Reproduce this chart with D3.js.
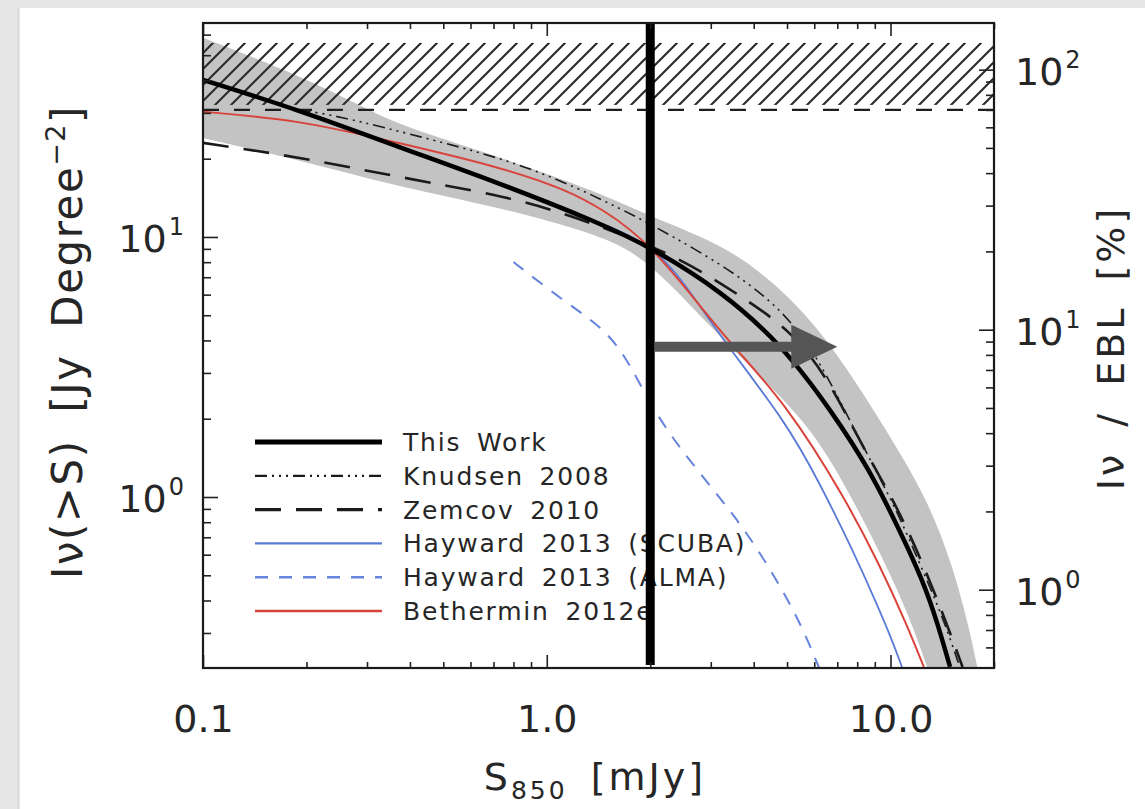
<!DOCTYPE html>
<html>
<head>
<meta charset="utf-8">
<script src="https://cdn.jsdelivr.net/npm/d3@7"></script>
<style>
  body { margin: 0; background: #fff; }
  svg text { font-family: "DejaVu Sans", sans-serif; fill: #262626; }
</style>
</head>
<body>
<div id="chart"></div>
<script>
/* DATA (S850 in mJy, I in Jy deg^-2) */
const thisWorkS = [0.1, 0.19, 0.37, 0.73, 1.43, 2.0, 3.2, 4.9, 6.8, 8.7, 10.6, 12.4, 13.7, 14.9];
const thisWorkI = [40.2, 30.8, 22.2, 16.1, 11.3, 9.15, 6.25, 3.78, 2.10, 1.27, 0.75, 0.48, 0.328, 0.222];

const knudsenS = [0.19, 0.24, 0.47, 0.91, 1.63, 1.95, 2.84, 4.16, 5.44, 6.65, 8.12, 10.2, 12.15, 14.2, 15.9];
const knudsenI = [30.8, 29.5, 23.6, 18.6, 12.9, 11.4, 8.68, 6.25, 4.39, 2.82, 1.66, 0.948, 0.557, 0.345, 0.222];

const zemcovS = [0.1, 0.19, 0.37, 0.73, 1.09, 1.63, 2.44, 3.64, 5.26, 6.74, 8.23, 10.4, 12.4, 14.45, 16.2];
const zemcovI = [23.0, 20.3, 17.0, 14.5, 12.5, 10.3, 8.30, 5.98, 4.27, 2.70, 1.585, 0.932, 0.557, 0.336, 0.222];

const scubaS = [0.835, 1.43, 1.98, 2.49, 3.14, 4.99, 6.22, 7.76, 9.10, 10.1, 10.8];
const scubaI = [14.8, 11.4, 9.48, 6.83, 4.27, 1.93, 1.13, 0.626, 0.391, 0.282, 0.222];

const almaS = [0.80, 1.11, 1.49, 1.74, 2.09, 2.73, 3.81, 5.33, 6.2];
const almaI = [8.01, 5.72, 4.39, 3.28, 2.03, 1.27, 0.75, 0.358, 0.22];

const bethS = [0.1, 0.19, 0.37, 0.73, 1.14, 1.45, 1.98, 3.04, 3.50, 4.99, 7.35, 9.29, 11.1, 12.5];
const bethI = [30.3, 28.2, 23.0, 18.6, 15.2, 12.8, 9.6, 4.71, 3.78, 2.26, 1.0, 0.548, 0.328, 0.222];

// uncertainty band of this work
const bandUpperS = [0.1, 0.19, 0.30, 0.37, 0.73, 1.43, 1.95, 3.18, 4.45, 6.43, 9.73, 12.7, 15.1, 17.0, 17.9];
const bandUpperI = [58.3, 42.0, 31.1, 27.0, 20.3, 14.8, 12.15, 9.48, 6.96, 4.27, 1.81, 1.0, 0.557, 0.308, 0.22];
const bandLowerS = [0.1, 0.19, 0.37, 0.73, 1.43, 1.98, 3.04, 4.76, 6.22, 8.29, 11.1, 12.8];
const bandLowerI = [24.0, 19.8, 15.6, 13.0, 10.2, 8.16, 4.39, 2.47, 1.66, 0.838, 0.378, 0.22];

// EBL measurement range and value used for the right axis
const eblRange = [30.8, 55.7];
const eblValue = 44;

// flux cut and arrow
const cutS = 2.0;
const arrowS = [2.0, 7.0];
const arrowI = 3.78;

const xMajor = [0.1, 1, 10];
const xMinor = [0.2, 0.3, 0.4, 0.5, 0.6, 0.7, 0.8, 0.9, 2, 3, 4, 5, 6, 7, 8, 9, 20];
const yMajor = [1, 10];
const yMinor = [0.3, 0.4, 0.5, 0.6, 0.7, 0.8, 0.9, 2, 3, 4, 5, 6, 7, 8, 9, 20, 30, 40, 50, 60];
const yRMajor = [1, 10, 100];
const yRMinor = [0.6, 0.7, 0.8, 0.9, 2, 3, 4, 5, 6, 7, 8, 9, 20, 30, 40, 50, 60, 70, 80, 90];

const legendLabels = ["This Work", "Knudsen 2008", "Zemcov 2010", "Hayward 2013 (SCUBA)", "Hayward 2013 (ALMA)", "Bethermin 2012e"];

/* LAYOUT */
const W = 1145, H = 809;
const box = { left: 203, right: 994, top: 23, bottom: 668 };

const svg = d3.select("#chart").append("svg")
  .attr("width", W).attr("height", H);

// page backdrop
svg.append("rect").attr("width", W).attr("height", H).attr("fill", "#e7e7e7");
svg.append("rect").attr("x", 19).attr("y", 8).attr("width", W - 19).attr("height", H - 8).attr("fill", "#fff");
svg.append("line").attr("x1", 18.5).attr("x2", 18.5).attr("y1", 8).attr("y2", H)
  .attr("stroke", "#d6d6d6").attr("stroke-width", 2);

/* SCALES */
const x = d3.scaleLog().domain([0.1, 20]).range([box.left, box.right]);
const y = d3.scaleLog().domain([0.22, 66.5]).range([box.bottom, box.top]);
const yR = d3.scaleLog().domain([0.22 * 100 / eblValue, 66.5 * 100 / eblValue]).range([box.bottom, box.top]);

const defs = svg.append("defs");
defs.append("clipPath").attr("id", "plotClip")
  .append("rect")
  .attr("x", box.left).attr("y", box.top)
  .attr("width", box.right - box.left).attr("height", box.bottom - box.top);

const hatch = defs.append("pattern").attr("id", "hatch")
  .attr("patternUnits", "userSpaceOnUse").attr("width", 16).attr("height", 16);
hatch.append("path")
  .attr("d", "M-2,18 L18,-2 M-4,4 L4,-4 M12,20 L20,12")
  .attr("stroke", "#2a2a2a").attr("stroke-width", 2.1);

const plot = svg.append("g").attr("clip-path", "url(#plotClip)");

const toPts = (S, I) => S.map((s, i) => [x(s), y(I[i])]);
const line = d3.line().curve(d3.curveBasis);

// grey band
const upperD = line(toPts(bandUpperS, bandUpperI));
const lowerD = line(toPts(bandLowerS, bandLowerI).reverse());
plot.append("path")
  .attr("d", upperD + "L" + x(bandLowerS[bandLowerS.length - 1]) + "," + box.bottom + lowerD.replace(/^M/, "L") + "Z")
  .attr("fill", "#c3c3c3");

// EBL hatched range
plot.append("rect")
  .attr("x", box.left).attr("width", box.right - box.left)
  .attr("y", y(eblRange[1])).attr("height", y(eblRange[0]) - y(eblRange[1]) - 5)
  .attr("fill", "url(#hatch)");
plot.append("line")
  .attr("x1", box.left).attr("x2", box.right)
  .attr("y1", y(eblRange[0])).attr("y2", y(eblRange[0]))
  .attr("stroke", "#1e1e1e").attr("stroke-width", 2.4).attr("stroke-dasharray", "16,15");

/* SERIES */
const series = [
  { S: thisWorkS, I: thisWorkI, color: "#000", width: 4.5, dash: null },
  { S: knudsenS, I: knudsenI, color: "#1a1a1a", width: 1.6, dash: "12,5,2,5,2,5,2,5" },
  { S: zemcovS, I: zemcovI, color: "#1a1a1a", width: 2.6, dash: "26,15" },
  { S: scubaS, I: scubaI, color: "#5a7bd6", width: 1.8, dash: null },
  { S: almaS, I: almaI, color: "#6684dc", width: 2.0, dash: "13,11" },
  { S: bethS, I: bethI, color: "#d8443c", width: 2.0, dash: null }
];
const drawOrder = [2, 1, 4, 3, 5, 0];
drawOrder.forEach(k => {
  const s = series[k];
  plot.append("path")
    .attr("d", line(toPts(s.S, s.I)))
    .attr("fill", "none")
    .attr("stroke", s.color)
    .attr("stroke-width", s.width)
    .attr("stroke-dasharray", s.dash);
});

/* LEGEND */
const legend = svg.append("g");
legendLabels.forEach((lab, i) => {
  const s = series[i];
  const ly = 442 + i * 33.8;
  legend.append("line")
    .attr("x1", 255).attr("x2", 382).attr("y1", ly).attr("y2", ly)
    .attr("stroke", s.color).attr("stroke-width", s.width === 4.5 ? 5 : s.width + 0.6)
    .attr("stroke-dasharray", s.dash);
  legend.append("text")
    .attr("x", 403).attr("y", ly + 9)
    .attr("font-size", 25).attr("letter-spacing", 1.8).attr("word-spacing", 6)
    .text(lab);
});

// flux cut and arrow
svg.append("line")
  .attr("x1", x(cutS)).attr("x2", x(cutS))
  .attr("y1", box.top).attr("y2", box.bottom - 3)
  .attr("stroke", "#000").attr("stroke-width", 9);

const ay = y(arrowI);
svg.append("line")
  .attr("x1", x(arrowS[0]) + 4).attr("x2", x(arrowS[1]) - 40)
  .attr("y1", ay).attr("y2", ay)
  .attr("stroke", "#555").attr("stroke-width", 10);
svg.append("path")
  .attr("d", `M${x(arrowS[1])},${ay} L${x(arrowS[1]) - 46},${ay - 22} L${x(arrowS[1]) - 46},${ay + 22} Z`)
  .attr("fill", "#555");

/* AXES */
function styleAxis(g) {
  g.select(".domain").remove();
  g.selectAll(".tick line").attr("stroke", "#222").attr("stroke-width", 1.6);
}

svg.append("g").attr("transform", `translate(0,${box.bottom})`)
  .call(d3.axisBottom(x).tickValues(xMajor).tickSize(-13).tickPadding(37).tickFormat(d => d.toFixed(1)))
  .call(styleAxis)
  .call(g => g.selectAll("text").attr("font-size", 38).attr("fill", "#262626")
    .style("font-family", "DejaVu Sans"));
svg.append("g").attr("transform", `translate(0,${box.bottom})`)
  .call(d3.axisBottom(x).tickValues(xMinor).tickSize(-6).tickFormat(""))
  .call(styleAxis);
svg.append("g").attr("transform", `translate(0,${box.top})`)
  .call(d3.axisTop(x).tickValues(xMajor).tickSize(-13).tickFormat(""))
  .call(styleAxis);
svg.append("g").attr("transform", `translate(0,${box.top})`)
  .call(d3.axisTop(x).tickValues(xMinor).tickSize(-6).tickFormat(""))
  .call(styleAxis);

svg.append("g").attr("transform", `translate(${box.left},0)`)
  .call(d3.axisLeft(y).tickValues(yMajor).tickSize(-15).tickFormat(""))
  .call(styleAxis);
svg.append("g").attr("transform", `translate(${box.left},0)`)
  .call(d3.axisLeft(y).tickValues(yMinor).tickSize(-8).tickFormat(""))
  .call(styleAxis);
svg.append("g").attr("transform", `translate(${box.right},0)`)
  .call(d3.axisRight(yR).tickValues(yRMajor).tickSize(-15).tickFormat(""))
  .call(styleAxis);
svg.append("g").attr("transform", `translate(${box.right},0)`)
  .call(d3.axisRight(yR).tickValues(yRMinor).tickSize(-8).tickFormat(""))
  .call(styleAxis);

// power-of-ten labels
function powLabel(g, px, py, anchor, exp) {
  const t = g.append("text").attr("x", px).attr("y", py + 15)
    .attr("text-anchor", anchor).attr("font-size", 38);
  t.append("tspan").text("10");
  t.append("tspan").attr("font-size", 24).attr("dy", -17).attr("dx", 2).text(exp);
}
yMajor.forEach(v => powLabel(svg, 184, y(v), "end", Math.round(Math.log10(v))));
yRMajor.forEach(v => powLabel(svg, 1015, yR(v), "start", Math.round(Math.log10(v))));

// frame
svg.append("rect")
  .attr("x", box.left).attr("y", box.top)
  .attr("width", box.right - box.left).attr("height", box.bottom - box.top)
  .attr("fill", "none").attr("stroke", "#1a1a1a").attr("stroke-width", 2.2);

/* TITLES */
const xt = svg.append("text")
  .attr("x", 595).attr("y", 790).attr("text-anchor", "middle")
  .attr("font-size", 38).attr("letter-spacing", 3).attr("word-spacing", 8);
xt.append("tspan").text("S");
xt.append("tspan").attr("font-size", 25).attr("dy", 9).text("850");
xt.append("tspan").attr("dy", -9).text(" [mJy]");

const ylt = svg.append("text")
  .attr("transform", "translate(82,342) rotate(-90)")
  .attr("text-anchor", "middle")
  .attr("font-size", 42).attr("letter-spacing", 1.5).attr("word-spacing", 12);
ylt.append("tspan").text("Iν(>S) [Jy Degree");
ylt.append("tspan").attr("font-size", 27).attr("dy", -17).text("−2");
ylt.append("tspan").attr("dy", 17).text("]");

svg.append("text")
  .attr("transform", "translate(1124,348) rotate(-90)")
  .attr("text-anchor", "middle")
  .attr("font-size", 38).attr("letter-spacing", 3).attr("word-spacing", 10)
  .text("Iν / EBL [%]");
</script>
</body>
</html>
